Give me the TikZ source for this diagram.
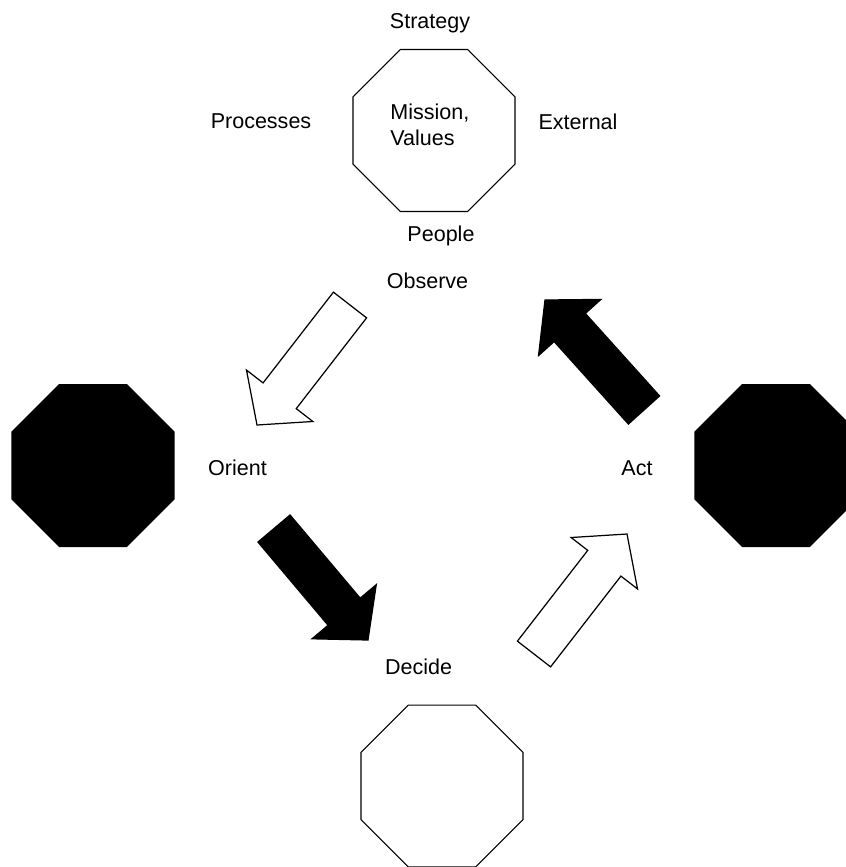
\documentclass[tikz,border=0pt]{standalone}
\usepackage{fontspec}
\setmainfont{Liberation Sans}
\usetikzlibrary{calc}
\usetikzlibrary{shapes.geometric}

% block arrow from tail coordinate #1 to tip coordinate #2, style #3
\newcommand{\blockarrow}[3]{%
  \coordinate (hb) at ($(#2)!0.74cm!(#1)$);
  \draw[#3] ($(#1)!0.42cm!90:(#2)$) -- ($(hb)!0.42cm!-90:(#1)$)
    -- ($(hb)!0.84cm!-90:(#1)$) -- (#2) -- ($(hb)!0.84cm!90:(#1)$)
    -- ($(hb)!0.42cm!90:(#1)$) -- ($(#1)!0.42cm!-90:(#2)$) -- cycle;
}

\begin{document}
\begin{tikzpicture}[x=0.02cm,y=-0.02cm]
  \tikzstyle{oct}=[draw, regular polygon, regular polygon sides=8, minimum size=3.507cm, inner sep=0pt, line width=0.6pt]
  \tikzstyle{lbl}=[inner sep=0pt, anchor=base, font=\fontsize{12.25}{14.5}\selectfont]
  \tikzstyle{hollow}=[draw, fill=white, line width=0.7pt]
  \tikzstyle{filled}=[draw, fill=black, line width=0.7pt]

  \useasboundingbox (0,0) rectangle (846,867);
  \clip (0,0) rectangle (846,867);

  % octagons
  \node[oct] (mv) at (434,130.5) {};
  \node[oct, fill=black] (ori) at (93,465.5) {};
  \node[oct, fill=black] (act) at (776,465.5) {};
  \node[oct] (dec) at (442,786) {};

  % labels round the top octagon
  \node[lbl, align=left, anchor=north west] (miss) at (390,104) {Mission,\\Values};
  \node[lbl] (strat) at (430,28) {Strategy};
  \node[lbl] (proc) at (261,128) {Processes};
  \node[lbl] (ext) at (578,129) {External};
  \node[lbl] (peop) at (441,241) {People};

  % loop labels
  \node[lbl] (obs) at (427.5,288) {Observe};
  \node[lbl] (orl) at (237.5,475) {Orient};
  \node[lbl] (acl) at (637,475) {Act};
  \node[lbl] (del) at (418.5,674) {Decide};

  % arrows
  \coordinate (a1t) at (350,305);   \coordinate (a1h) at (257,425);
  \coordinate (a2t) at (274,528.5); \coordinate (a2h) at (368,640);
  \coordinate (a3t) at (534,654);   \coordinate (a3h) at (627,534);
  \coordinate (a4t) at (644,410);   \coordinate (a4h) at (545,300);

  \blockarrow{a1t}{a1h}{hollow}
  \blockarrow{a2t}{a2h}{filled}
  \blockarrow{a3t}{a3h}{hollow}
  \blockarrow{a4t}{a4h}{filled}
\end{tikzpicture}
\end{document}
